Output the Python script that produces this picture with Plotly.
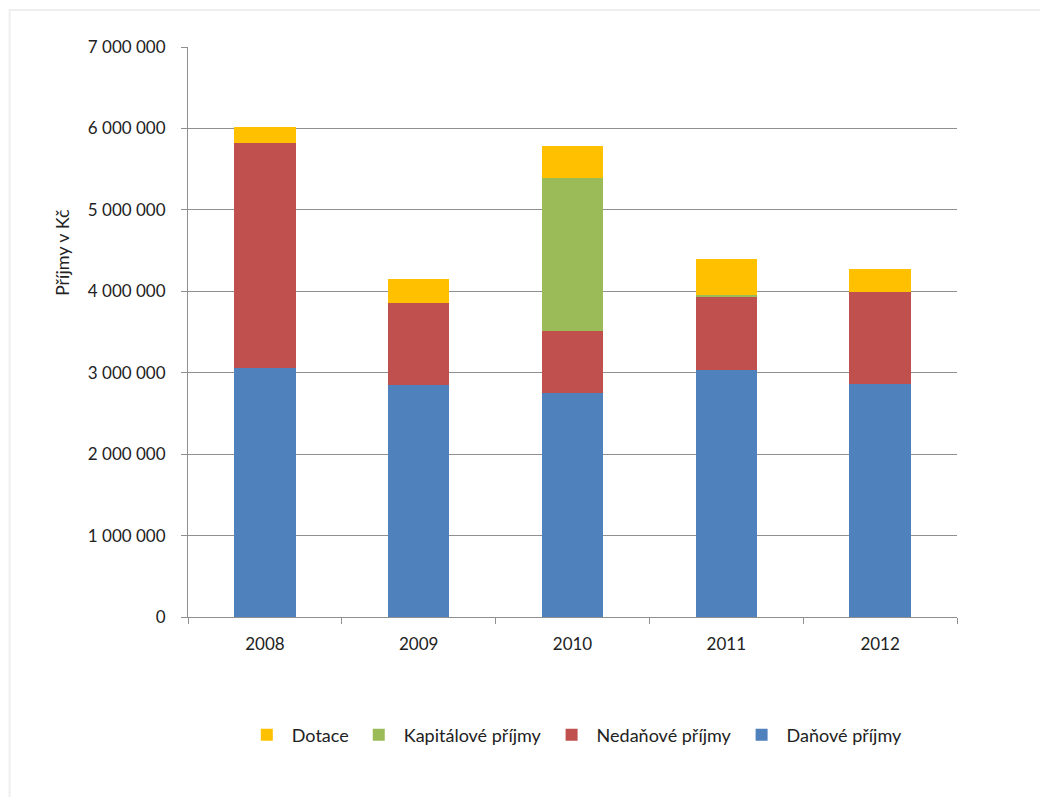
import plotly.graph_objects as go

years = ['2008', '2009', '2010', '2011', '2012']
danove = [3055000, 2850000, 2752000, 3034000, 2862000]
nedanove = [2760000, 1011000, 762000, 900000, 1134000]
kapitalove = [0, 0, 1883000, 15000, 0]
dotace = [205000, 288000, 389000, 446000, 279000]

font = 'Lato, Calibri, sans-serif'

fig = go.Figure()
fig.add_trace(go.Bar(x=years, y=danove, name='Daňové příjmy', marker_color='#4F81BD'))
fig.add_trace(go.Bar(x=years, y=nedanove, name='Nedaňové příjmy', marker_color='#C0504D'))
fig.add_trace(go.Bar(x=years, y=kapitalove, name='Kapitálové příjmy', marker_color='#9BBB59'))
fig.add_trace(go.Bar(x=years, y=dotace, name='Dotace', marker_color='#FFC000'))
fig.update_traces(marker_line_width=0)

# page is drawn with an 8px body margin, so margins are offset by 8
fig.update_layout(
    barmode='stack', bargap=0.6,
    width=1048, height=797,
    margin=dict(l=180, r=99, t=39, b=188),
    paper_bgcolor='white', plot_bgcolor='white',
    font=dict(family=font, size=17, color='#222'),
    showlegend=True,
    legend=dict(orientation='h', traceorder='reversed', x=0.503, xanchor='center',
                y=-0.207, yanchor='middle', font=dict(size=18),
                itemwidth=40),
    shapes=[dict(type='rect', xref='paper', yref='paper',
                 x0=-0.232, x1=1.2, y0=-0.4, y1=1.065,
                 line=dict(color='#eeeeee', width=2), layer='below')],
    annotations=[dict(text='Příjmy v Kč', textangle=-90, xref='paper', yref='paper',
                      x=-0.164, y=0.64, xanchor='center', yanchor='middle',
                      showarrow=False, font=dict(size=18))],
    separators=', ',
)
fig.update_yaxes(range=[0, 7000000], dtick=1000000, tickformat=',d',
                 showgrid=True, gridcolor='#8f8f8f', gridwidth=1,
                 showline=True, linecolor='#8f8f8f', ticks='outside',
                 ticklen=6, tickcolor='#8f8f8f', zeroline=False,
                 ticklabelstandoff=12)
fig.update_xaxes(showline=True, linecolor='#8f8f8f', ticks='outside',
                 tickson='boundaries', ticklen=6, tickcolor='#8f8f8f',
                 ticklabelstandoff=12)

fig.write_html('out.html')
